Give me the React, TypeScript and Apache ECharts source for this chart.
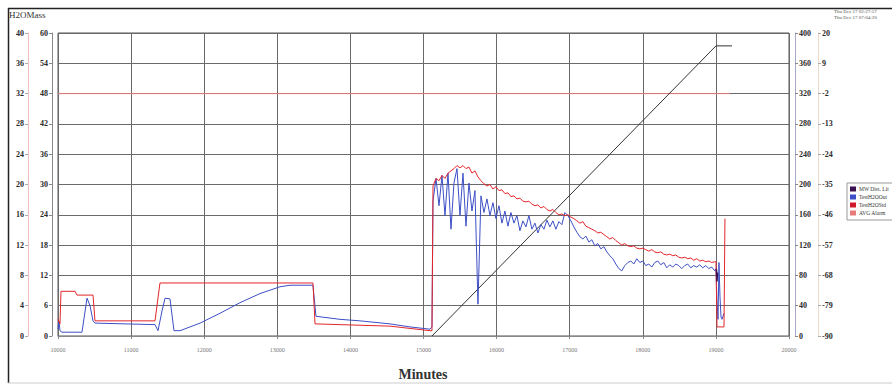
import React, { useEffect, useRef } from "react";
import * as echarts from "echarts";

// ---- axis ticks ----
const xMin = 10000;
const xMax = 20000;
const xStep = 1000;
const xAxisTitle = "Minutes";
const leftMassMax = 40;
const leftMassStep = 4;
const leftAltMax = 60;
const leftAltStep = 6;
const rightElapsedMax = 400;
const rightElapsedStep = 40;
const rightTempBase = -90;
const rightTempSpan = 110;
const rightTempStep = 11;

// ---- legend names ----
const seriesNames = ["MW Dist. Lit", "TestH2OOut", "TestH2OStd", "AVG Alarm"];

// ---- TestH2OStandard (red) ----
const standardHead: [number, number][] = [
  [10000, 2.2], [10027, 1.6], [10041, 5.9], [10233, 5.9], [10260, 5.4], [10479, 5.4],
  [10506, 2.0], [11327, 2.0], [11395, 7.0], [13488, 7.0], [13516, 1.6], [14542, 1.3],
  [15089, 0.7], [15116, 0.7],
];
const standardNoisy: number[] = [
  19.8, 20.8, 20.5, 21.2, 20.8, 21.5, 21.8, 22.1, 22.5, 22.2,
  22.5, 22.1, 22.3, 21.5, 21.8, 21.0, 20.5, 20.1, 19.8, 20.0,
  19.4, 19.7, 19.2, 19.3, 18.8, 18.9, 18.4, 18.5, 18.1, 18.2,
  17.8, 17.7, 17.8, 17.4, 17.2, 17.3, 16.9, 17.1, 16.7, 16.5,
  16.7, 16.3, 16.0, 16.1, 15.9, 16.0, 15.7, 15.5, 15.2, 14.9,
  15.1, 14.5, 14.3, 14.1, 13.9, 13.6, 13.7, 13.4, 13.1, 12.8,
  13.0, 12.6, 12.3, 12.0, 12.2, 11.9, 11.8, 11.9, 11.6, 11.5,
  11.6, 11.4, 11.2, 11.4, 11.1, 11.0, 11.1, 10.8, 10.7, 10.8,
  10.6, 10.7, 10.4, 10.3, 10.4, 10.2, 10.3, 10.0, 10.2, 9.9,
  10.0, 9.8, 9.9, 9.7, 9.8,
];
const standardTail: [number, number][] = [
  [19001, 9.8], [19015, 1.2], [19111, 1.2], [19124, 15.5],
];

// ---- TestH2OOutlet (blue) ----
const outletHead: [number, number][] = [
  [10000, 0.9], [10014, 2.0], [10027, 0.7], [10055, 0.5], [10328, 0.5], [10397, 5.0],
  [10438, 4.0], [10479, 2.0], [10506, 1.7], [11327, 1.5], [11368, 0.7], [11423, 3.3],
  [11464, 5.0], [11532, 4.9], [11587, 0.7], [11669, 0.7], [11943, 1.7], [12216, 3.0],
  [12490, 4.4], [12763, 5.6], [13037, 6.5], [13174, 6.7], [13488, 6.7], [13529, 2.6],
  [13858, 2.2], [14131, 2.0], [14542, 1.6], [14815, 1.2], [15089, 0.9], [15116, 1.2],
];
const outletNoisy: number[] = [
  17.8, 20.8, 17.2, 21.2, 15.9, 21.5, 14.1, 20.2, 22.1, 15.9,
  21.5, 14.5, 20.2, 16.5, 19.2, 4.2, 18.5, 16.3, 18.1, 15.9,
  17.6, 15.5, 17.2, 14.9, 16.5, 14.5, 16.3, 14.9, 15.9, 13.9,
  15.2, 14.4, 15.9, 14.1, 14.9, 13.6, 14.7, 14.1, 15.3, 14.4,
  15.2, 14.1, 15.1, 14.7, 16.3, 15.9, 15.2, 14.4, 13.7, 13.1,
  12.8, 13.2, 12.4, 12.7, 11.9, 12.2, 11.5, 11.8, 11.1, 10.6,
  10.2, 9.5, 8.9, 8.6, 9.3, 9.7, 9.9, 9.5, 10.2, 9.7,
  9.9, 9.3, 9.5, 9.1, 9.7, 9.9, 9.4, 9.7, 9.0, 9.4,
  9.1, 9.5, 9.3, 8.9, 9.3, 9.5, 9.0, 9.3, 9.1, 9.4,
  9.0, 9.3, 8.9, 9.1, 8.6,
];
const outletTail: [number, number][] = [
  [19001, 8.9], [19015, 4.6], [19029, 2.2], [19042, 9.7], [19056, 5.2],
  [19070, 2.5], [19083, 2.2], [19111, 3.0],
];
const noisyStart = 15130;
const noisyStep = 41;

// ---- MW Dist (dark purple, short trace) ----
const distPoints: [number, number][] = [[19008, 8.8], [19015, 7.2], [19022, 8.4]];

// ---- elapsed ramp (right axis 0-400) ----
const rampPoints: [number, number][] = [[15116, 0], [19001, 383], [19220, 383]];

// ---- alarm level ----
const alarmLevel = 32;
const alarmRange: [number, number] = [10000, 19193];

function withNoisy(head: [number, number][], noisy: number[], tail: [number, number][]) {
  const mid = noisy.map((v, k) => [noisyStart + k * noisyStep, v] as [number, number]);
  return [...head, ...mid, ...tail];
}

const FONT = "'Liberation Serif', 'DejaVu Serif', serif";

export default function App() {
  const ref = useRef<HTMLDivElement>(null);
  useEffect(() => {
    if (!ref.current) return;
    const chart = echarts.init(ref.current, undefined, { renderer: "svg" });
    const axisLabel = { fontSize: 8, color: "#2a2a2a", fontFamily: FONT, fontWeight: "bold" as const };
    chart.setOption({
      animation: false,
      backgroundColor: "#fff",
      grid: {
        left: 58, right: 103, top: 33, bottom: 50, show: true, borderColor: "#555", borderWidth: 1,
        containLabel: false, outerBoundsMode: "none",
      },
      legend: {
        orient: "vertical",
        left: 847,
        top: 183,
        data: seriesNames,
        icon: "rect",
        itemWidth: 6,
        itemHeight: 5,
        itemGap: 2,
        padding: [3, 6, 4, 3],
        borderColor: "#999",
        borderWidth: 1,
        textStyle: { fontSize: 5.5, color: "#333", fontFamily: FONT, padding: [0, 0, 0, -2] },
      },
      xAxis: {
        type: "value",
        min: xMin,
        max: xMax,
        interval: xStep,
        offset: 6,
        axisLine: { lineStyle: { color: "#888" } },
        axisTick: { length: 3, lineStyle: { color: "#888" } },
        axisLabel: { fontSize: 6, color: "#777", fontFamily: FONT, margin: 5, formatter: (v: number) => String(v) },
        splitLine: { show: true, lineStyle: { color: "#6a6a6a", width: 1 } },
      },
      yAxis: [
        {
          type: "value", position: "left", offset: 30, min: 0, max: leftMassMax, interval: leftMassStep,
          axisLine: { show: true, lineStyle: { color: "#f0c0c0" } },
          axisTick: { show: true, length: 3, lineStyle: { color: "#aaa" } },
          axisLabel: { ...axisLabel, margin: 4 },
          splitLine: { show: true, lineStyle: { color: "#6a6a6a", width: 1 } },
        },
        {
          type: "value", position: "left", offset: 6, min: 0, max: leftAltMax, interval: leftAltStep,
          axisLine: { show: true, lineStyle: { color: "#888" } },
          axisTick: { show: true, length: 3, lineStyle: { color: "#888" } },
          axisLabel: { ...axisLabel, margin: 4 },
          splitLine: { show: false },
        },
        {
          type: "value", position: "right", offset: 6, min: 0, max: rightElapsedMax, interval: rightElapsedStep,
          axisLine: { show: true, lineStyle: { color: "#a8a8cc" } },
          axisTick: { show: true, length: 3, lineStyle: { color: "#888" } },
          axisLabel: { ...axisLabel, margin: 4 },
          splitLine: { show: false },
        },
        {
          type: "value", position: "right", offset: 29, min: 0, max: rightTempSpan, interval: rightTempStep,
          axisLine: { show: true, lineStyle: { color: "#eadccc" } },
          axisTick: { show: true, length: 3, lineStyle: { color: "#aaa" } },
          axisLabel: { ...axisLabel, margin: 4, formatter: (v: number) => String(Math.round(v + rightTempBase)) },
          splitLine: { show: false },
        },
      ],
      series: [
        {
          name: seriesNames[3], type: "line", yAxisIndex: 0, symbol: "none",
          data: [[alarmRange[0], alarmLevel], [alarmRange[1], alarmLevel]],
          lineStyle: { color: "#e77b7b", width: 1 }, itemStyle: { color: "#e77b7b" },
        },
        {
          name: "Elapsed", type: "line", yAxisIndex: 2, symbol: "none",
          data: rampPoints, lineStyle: { color: "#333", width: 1 }, itemStyle: { color: "#333" },
        },
        {
          name: seriesNames[1], type: "line", yAxisIndex: 0, symbol: "none",
          data: withNoisy(outletHead, outletNoisy, outletTail),
          lineStyle: { color: "#3d4fc6", width: 1 }, itemStyle: { color: "#3d4fc6" },
        },
        {
          name: seriesNames[2], type: "line", yAxisIndex: 0, symbol: "none",
          data: withNoisy(standardHead, standardNoisy, standardTail),
          lineStyle: { color: "#e3262a", width: 1 }, itemStyle: { color: "#d01c2a" },
        },
        {
          name: seriesNames[0], type: "line", yAxisIndex: 0, symbol: "none",
          data: distPoints, lineStyle: { color: "#3a1050", width: 1.5 }, itemStyle: { color: "#3a1050" },
        },
      ],
      graphic: [
        { type: "line", shape: { x1: 8, y1: 8.5, x2: 892, y2: 8.5 }, style: { stroke: "#222", lineWidth: 1.5 } },
        { type: "line", shape: { x1: 8.5, y1: 8, x2: 8.5, y2: 383 }, style: { stroke: "#222", lineWidth: 1.5 } },
        { type: "line", shape: { x1: 8, y1: 383, x2: 892, y2: 383 }, style: { stroke: "#ccc", lineWidth: 1 } },
        { type: "text", left: 9, top: 10, style: { text: "H2OMass", fontSize: 9, fill: "#333", fontFamily: FONT } },
        { type: "text", left: 834, top: 9, style: { text: "Thu Dec 17 02:27:57", fontSize: 5, fill: "#555", fontFamily: FONT } },
        { type: "text", left: 834, top: 15, style: { text: "Thu Dec 17 07:04:20", fontSize: 5, fill: "#555", fontFamily: FONT } },
        {
          type: "text", x: 423, y: 367,
          style: { text: xAxisTitle, fontSize: 14, fontWeight: "bold", fill: "#333", fontFamily: FONT, align: "center", verticalAlign: "top" },
        },
      ],
    });
    return () => chart.dispose();
  }, []);
  return <div ref={ref} style={{ position: "fixed", left: 0, top: 0, width: 892, height: 386 }} />;
}
